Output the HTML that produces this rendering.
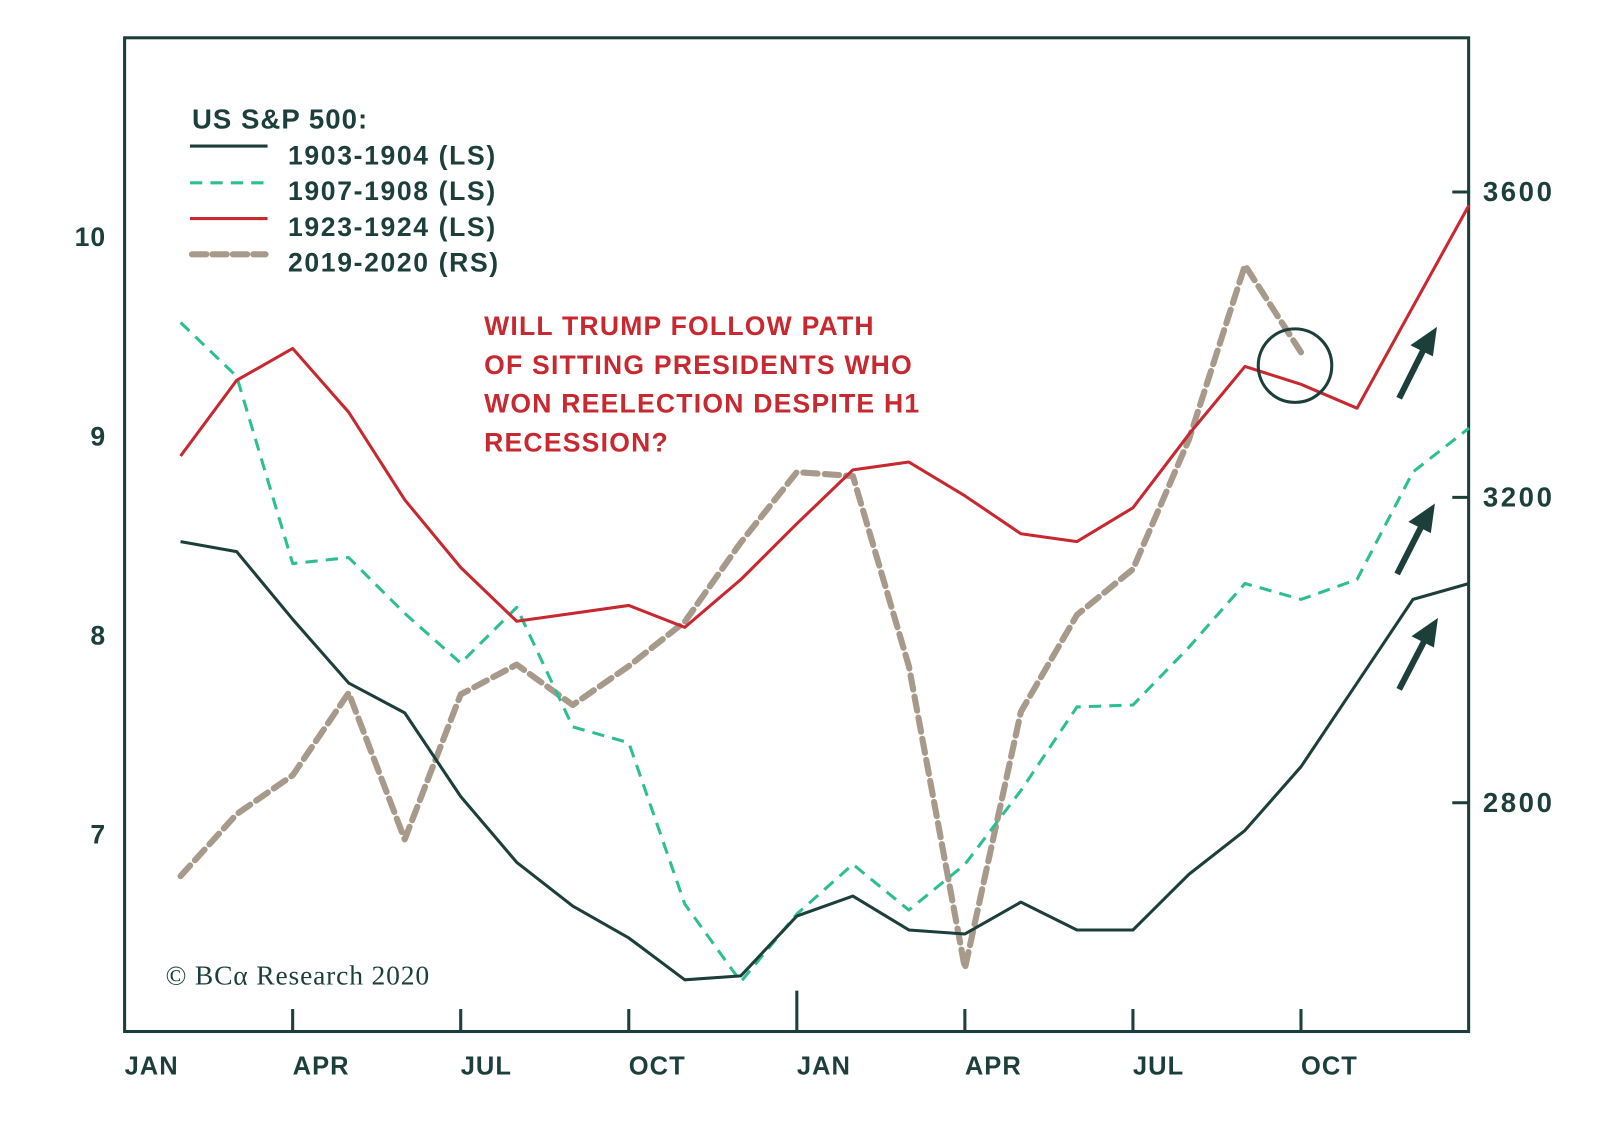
<!DOCTYPE html>
<html><head><meta charset="utf-8"><style>
body{margin:0;background:#fff}
svg text{font-family:"Liberation Sans",sans-serif;font-weight:bold;fill:#1d3f3b}
</style></head><body>
<svg width="1600" height="1123" viewBox="0 0 1600 1123">
<g transform="scale(1.0213)">
<rect x="122" y="37" width="1316" height="973" fill="none" stroke="#1d3f3b" stroke-width="3"/>
<g id="axes"></g>
<g id="series"></g>
<g>
<text x="188" y="126" font-size="27" letter-spacing="1">US S&amp;P 500:</text>
<line x1="186" y1="143" x2="262" y2="143" stroke="#1d3f3b" stroke-width="3"/>
<text x="282" y="161" font-size="26" letter-spacing="1.6">1903-1904 (LS)</text>
<line x1="186" y1="179" x2="262" y2="179" stroke="#2dbf8f" stroke-width="3" stroke-dasharray="12,8"/>
<text x="282" y="196" font-size="26" letter-spacing="1.6">1907-1908 (LS)</text>
<line x1="186" y1="214" x2="262" y2="214" stroke="#c8282f" stroke-width="3"/>
<text x="282" y="231" font-size="26" letter-spacing="1.6">1923-1924 (LS)</text>
<line x1="188" y1="249" x2="260" y2="249" stroke="#a89a8a" stroke-width="6" stroke-dasharray="14,6" stroke-linecap="round"/>
<text x="282" y="266" font-size="26" letter-spacing="1.6">2019-2020 (RS)</text>
</g>
<g>
<text x="474" y="328" font-size="26" letter-spacing="1.2" style="fill:#c8282f">WILL TRUMP FOLLOW PATH</text>
<text x="474" y="366" font-size="26" letter-spacing="1.2" style="fill:#c8282f">OF SITTING PRESIDENTS WHO</text>
<text x="474" y="404" font-size="26" letter-spacing="1.2" style="fill:#c8282f">WON REELECTION DESPITE H1</text>
<text x="474" y="442" font-size="26" letter-spacing="1.2" style="fill:#c8282f">RECESSION?</text>
</g>
<text x="162" y="964" font-size="27" letter-spacing="0.8" style="font-family:'Liberation Serif',serif;font-weight:normal;fill:#1d3f3b">© BCα Research 2020</text>
<circle cx="1268" cy="358" r="36" fill="none" stroke="#1d3f3b" stroke-width="3"/>
<g stroke="#1d3f3b" stroke-width="6" fill="#1d3f3b">
<line x1="1370" y1="390" x2="1396" y2="338"/><polygon points="1407,320 1381,338 1403,349" stroke="none"/>
<line x1="1368" y1="562" x2="1394" y2="511"/><polygon points="1405,493 1379,511 1401,522" stroke="none"/>
<line x1="1370" y1="675" x2="1397" y2="623"/><polygon points="1408,605 1382,623 1404,634" stroke="none"/>
</g>
</g>
</svg>
<script>
const leftTicks=[7,8,9,10];
const rightTicks=[2800,3200,3600];
const quarterLabels=["JAN","APR","JUL","OCT","JAN","APR","JUL","OCT"];
const months=[1,2,3,4,5,6,7,8,9,10,11,12,13,14,15,16,17,18,19,20,21,22,23,24];
const s1903=[8.47,8.42,8.08,7.76,7.61,7.19,6.86,6.64,6.48,6.27,6.29,6.59,6.69,6.52,6.50,6.66,6.52,6.52,6.80,7.02,7.34,7.76,8.18,8.26];
const s1907=[9.57,9.30,8.36,8.39,8.11,7.86,8.14,7.54,7.46,6.65,6.26,6.60,6.85,6.62,6.85,7.22,7.64,7.65,7.94,8.26,8.18,8.28,8.82,9.04];
const s1923=[8.90,9.28,9.44,9.12,8.68,8.34,8.07,8.11,8.15,8.04,8.28,8.56,8.83,8.87,8.70,8.51,8.47,8.64,9.01,9.35,9.26,9.14,9.65,10.16];
const s2019=[2704,2785,2836,2944,2752,2942,2981,2928,2979,3037,3141,3233,3228,2979,2583,2919,3046,3106,3276,3504,3390];
const NS="http://www.w3.org/2000/svg";
const X=m=>122+m*54.85;
const YL=v=>232+(10-v)*195;
const YR=v=>188+(3600-v)*0.7475;
const axes=document.getElementById('axes'),ser=document.getElementById('series');
function mk(tag,attrs,parent,txt){const e=document.createElementNS(NS,tag);for(const k in attrs)e.setAttribute(k,attrs[k]);if(txt!==undefined)e.textContent=txt;parent.appendChild(e);return e;}
leftTicks.forEach(v=>{
 const t=mk('text',{x:104,y:YL(v)+9,'font-size':26,'letter-spacing':1,'text-anchor':'end'},axes,String(v));
 
 
});
rightTicks.forEach(v=>{
 mk('line',{x1:1422,y1:YR(v),x2:1438,y2:YR(v),stroke:'#1d3f3b','stroke-width':3},axes);
 const t=mk('text',{x:1452,y:YR(v)+9,'font-size':27,'letter-spacing':2.5},axes,String(v));
 
 
});
quarterLabels.forEach((l,i)=>{
 const x=X(i*3);
 if(i>0)mk('line',{x1:x,y1:i==4?970:988,x2:x,y2:1010,stroke:'#1d3f3b','stroke-width':3},axes);
 const t=mk('text',{x:x,y:1052,'font-size':25,'letter-spacing':1},axes,l);
 
 
});
function line(data,yf,color,w,dash,name,cap){
 const pts=data.map((v,i)=>X(months[i]).toFixed(1)+','+yf(v).toFixed(1)).join(' ');
 const p=mk('polyline',{points:pts,fill:'none',stroke:color,'stroke-width':w,'stroke-linejoin':'round','stroke-linecap':cap||'butt'},ser);
 if(dash)p.setAttribute('stroke-dasharray',dash);
 
 
}
line(s2019,YR,'#a89a8a',6,'14,7','series-2019-2020','round');
line(s1907,YL,'#2dbf8f',3,'12,8','series-1907-1908');
line(s1903,YL,'#1d3f3b',3,null,'series-1903-1904');
line(s1923,YL,'#c8282f',3,null,'series-1923-1924');
</script>
</body></html>
